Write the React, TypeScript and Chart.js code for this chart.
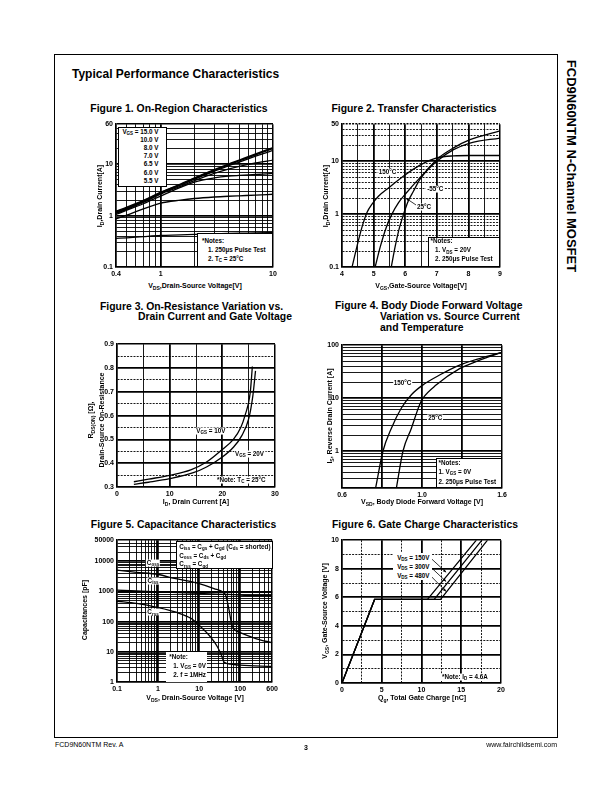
import React, { useEffect, useRef } from 'react';
import { Chart, registerables } from 'chart.js';

Chart.register(...registerables);

const FONT = '"Liberation Sans", Arial, Helvetica, sans-serif';

/* ---------------- Figure 1: On-Region Characteristics ---------------- */
const fig1Vds = [0.4, 0.5, 0.7, 1, 1.5, 2, 3, 4, 5, 7, 10];
const fig1Id15V = [1.22, 1.46, 1.97, 2.85, 4.1, 5.4, 7.8, 10.0, 12.0, 15.8, 21.0];
const fig1Id10V = [1.18, 1.41, 1.91, 2.78, 4.0, 5.3, 7.6, 9.7, 11.6, 15.2, 20.2];
const fig1Id8V = [1.13, 1.36, 1.85, 2.72, 3.9, 5.15, 7.3, 9.3, 11.0, 14.3, 18.6];
const fig1Id7V = [1.1, 1.32, 1.8, 2.62, 3.7, 4.8, 6.6, 8.0, 9.1, 10.6, 12.0];
const fig1Id6p5V = [1.05, 1.27, 1.7, 2.4, 3.55, 4.5, 5.4, 5.85, 6.05, 6.3, 6.6];
const fig1Id6V = [0.87, 1.02, 1.35, 1.75, 2.0, 2.15, 2.3, 2.38, 2.43, 2.5, 2.6];
const fig1Id5p5V = [0.36, 0.37, 0.39, 0.41, 0.42, 0.43, 0.44, 0.45, 0.455, 0.46, 0.47];
const fig1XLabels = [0.4, 1, 10];
const fig1YLabels = [0.1, 1, 10, 60];

/* ---------------- Figure 2: Transfer Characteristics ---------------- */
const fig2Vgs150 = [4.32, 4.47, 4.63, 4.79, 4.95, 5.16, 5.42, 5.95, 6.47, 7.0, 7.53, 8.05, 9.0];
const fig2Id150 = [0.1, 0.24, 0.56, 1.07, 1.54, 2.2, 2.94, 5.24, 8.4, 11.5, 12.6, 12.8, 12.8];
const fig2Vgs25 = [5.05, 5.21, 5.4, 5.58, 5.79, 6.0, 6.47, 7.0, 7.53, 8.05, 9.0];
const fig2Id25 = [0.1, 0.24, 0.56, 1.0, 1.65, 2.37, 4.9, 10, 16.5, 22, 27.4];
const fig2VgsM55 = [5.56, 5.68, 5.82, 5.95, 6.1, 6.26, 6.47, 7.0, 7.53, 8.05, 9.0];
const fig2IdM55 = [0.1, 0.24, 0.56, 1.0, 1.78, 2.7, 4.6, 10.8, 17.8, 25.5, 37.5];
const fig2XLabels = [4, 5, 6, 7, 8, 9];
const fig2YLabels = [0.1, 1, 10, 50];

/* ---------------- Figure 3: On-Resistance ---------------- */
const fig3Id10V = [3.2, 6, 10, 14, 17, 20, 22.1, 23.5, 24.3, 25.3, 25.7];
const fig3Rds10V = [0.322, 0.333, 0.349, 0.372, 0.405, 0.458, 0.5, 0.55, 0.6, 0.697, 0.806];
const fig3Id20V = [3.2, 6, 10, 14.5, 17, 20, 22.1, 23.7, 25, 25.8, 26.3];
const fig3Rds20V = [0.311, 0.32, 0.335, 0.36, 0.384, 0.426, 0.467, 0.516, 0.586, 0.684, 0.788];
const fig3XLabels = [0, 10, 20, 30];
const fig3YLabels = [0.3, 0.4, 0.5, 0.6, 0.7, 0.8, 0.9];

/* ---------------- Figure 4: Body Diode ---------------- */
const fig4Vsd150 = [0.768, 0.805, 0.847, 0.897, 0.947, 1.005, 1.088, 1.188, 1.288, 1.4];
const fig4Is150 = [0.2, 1.0, 2.7, 6.5, 11.6, 17.8, 27.3, 42, 56, 73];
const fig4Vsd25 = [0.872, 0.905, 0.947, 0.988, 1.005, 1.072, 1.188, 1.288, 1.4];
const fig4Is25 = [0.2, 1.0, 2.7, 7.5, 10, 17.8, 36, 52, 73];
const fig4XLabels = [0.6, 1.0, 1.4];
const fig4XLabelText = ['0.6', '1.0', '1.6'];
const fig4YLabels = [1, 10, 100];

/* ---------------- Figure 5: Capacitance ---------------- */
const fig5VdsCoss = [0.1, 0.3, 1, 2.5, 10, 23, 40, 44, 48, 53, 58, 63, 76, 100, 250, 600];
const fig5Coss = [5080, 4300, 3650, 2700, 1830, 1250, 900, 760, 500, 260, 130, 76, 52, 43, 27, 20];
const fig5VdsCiss = [0.1, 1, 10, 50, 100, 600];
const fig5Ciss = [1100, 970, 860, 800, 760, 720];
const fig5VdsCrss = [0.1, 0.3, 1, 2.6, 6.5, 10, 19, 28, 35, 40, 60, 100, 600];
const fig5Crss = [475, 400, 293, 210, 126, 76, 31, 14.5, 7.7, 4.6, 3.9, 3.6, 3.3];
const fig5XLabels = [0.1, 1, 10, 100, 600];
const fig5YLabels = [1, 10, 100, 1000, 10000, 50000];

/* ---------------- Figure 6: Gate Charge ---------------- */
const fig6Qg150V = [0, 4.1, 10.75, 16.9];
const fig6Qg300V = [0, 4.1, 11.6, 17.6];
const fig6Qg480V = [0, 4.1, 12.4, 18.3];
const fig6Vgs = [0, 5.85, 5.85, 10];
const fig6XLabels = [0, 5, 10, 15, 20];
const fig6YLabels = [0, 2, 4, 6, 8, 10];

/* annotation arrows, in data units: [fromX, fromY, toX, toY] */
const fig2Arrows = [[6.37, 1.45, 6.02, 2.0]];
const fig6Arrows = [
  [11.25, 8.7, 13.1, 7.75],
  [11.25, 8.07, 13.1, 7.1],
  [11.25, 7.45, 13.1, 6.4],
];

/* ---------------- helpers ---------------- */
const AX = 34;
const PT = 6;
const PR = 8;
const XH = 14;

const near = (a: number, b: number) =>
  Math.abs(a - b) <= 1e-6 * Math.max(1e-3, Math.abs(a), Math.abs(b));
const isDecade = (v: number) => {
  const l = Math.log10(v);
  return Math.abs(l - Math.round(l)) < 1e-6;
};
const isMult = (v: number, m: number) => Math.abs(v / m - Math.round(v / m)) < 1e-6;

function logGrid(min: number, max: number): number[] {
  const out: number[] = [];
  const e0 = Math.floor(Math.log10(min) + 1e-9);
  const e1 = Math.floor(Math.log10(max) + 1e-9);
  for (let e = e0; e <= e1; e++) {
    for (let m = 1; m <= 9; m++) {
      const v = Number((m * Math.pow(10, e)).toPrecision(6));
      if (v >= min * (1 - 1e-9) && v <= max * (1 + 1e-9)) out.push(v);
    }
  }
  if (!near(out[0], min)) out.unshift(min);
  if (!near(out[out.length - 1], max)) out.push(max);
  return out;
}
function linGrid(min: number, max: number, step: number): number[] {
  const out: number[] = [];
  const n = Math.round((max - min) / step);
  for (let i = 0; i <= n; i++) out.push(Number((min + i * step).toPrecision(8)));
  return out;
}

type Spec = {
  type: 'linear' | 'logarithmic';
  min: number;
  max: number;
  grid: number[];
  labels: number[];
  texts?: string[];
  major: (v: number) => boolean;
  dashed?: (v: number) => boolean;
};

function scale(axis: 'x' | 'y', s: Spec) {
  return {
    type: s.type,
    min: s.min,
    max: s.max,
    position: axis === 'x' ? 'bottom' : 'left',
    afterBuildTicks: (sc: any) => {
      sc.ticks = s.grid.map((v) => ({ value: v }));
    },
    afterFit: (sc: any) => {
      if (axis === 'x') sc.height = XH;
      else sc.width = AX;
    },
    ticks: {
      autoSkip: false,
      maxRotation: 0,
      minRotation: 0,
      padding: 3,
      color: '#000',
      font: { family: FONT, size: 7, weight: 'bold' },
      callback: (v: any) => {
        const i = s.labels.findIndex((l) => near(l, Number(v)));
        return i < 0 ? '' : s.texts ? s.texts[i] : String(s.labels[i]);
      },
    },
    grid: {
      drawTicks: false,
      color: '#000',
      lineWidth: (c: any) => {
        if (!c.tick) return 0.9;
        const v = c.tick.value;
        if (near(v, s.min) || near(v, s.max)) return 1.5;
        return s.major(v) ? 1.8 : 0.9;
      },
    },
    border: {
      display: true,
      color: '#000',
      width: 1.5,
      dash: (c: any) => (c && c.tick && s.dashed && s.dashed(c.tick.value) ? [2, 1.2] : []),
    },
  };
}

function curve(xs: number[], ys: number[], w = 1.3, smooth = true) {
  return {
    data: xs.map((x, i) => ({ x, y: ys[i] })),
    borderColor: '#000',
    borderWidth: w,
    pointRadius: 0,
    fill: false,
    tension: 0,
    cubicInterpolationMode: smooth ? 'monotone' : 'default',
  };
}

function arrowPlugin(arrows: number[][]) {
  return {
    id: 'arrows',
    afterDatasetsDraw(chart: any) {
      const { ctx } = chart;
      const xs = chart.scales.x;
      const ys = chart.scales.y;
      ctx.save();
      ctx.strokeStyle = '#000';
      ctx.fillStyle = '#000';
      ctx.lineWidth = 0.8;
      arrows.forEach(([x0, y0, x1, y1]) => {
        const px0 = xs.getPixelForValue(x0);
        const py0 = ys.getPixelForValue(y0);
        const px1 = xs.getPixelForValue(x1);
        const py1 = ys.getPixelForValue(y1);
        ctx.beginPath();
        ctx.moveTo(px0, py0);
        ctx.lineTo(px1, py1);
        ctx.stroke();
        const a = Math.atan2(py1 - py0, px1 - px0);
        const L = 3.5;
        ctx.beginPath();
        ctx.moveTo(px1, py1);
        ctx.lineTo(px1 - L * Math.cos(a - 0.4), py1 - L * Math.sin(a - 0.4));
        ctx.lineTo(px1 - L * Math.cos(a + 0.4), py1 - L * Math.sin(a + 0.4));
        ctx.closePath();
        ctx.fill();
      });
      ctx.restore();
    },
  };
}

function config(xs: any, ys: any, datasets: any[], plugins: any[] = []) {
  return {
    type: 'line',
    data: { datasets },
    options: {
      animation: false,
      responsive: false,
      devicePixelRatio: 1,
      events: [],
      layout: { padding: { left: 0, right: PR, top: PT, bottom: 0 } },
      plugins: { legend: { display: false }, tooltip: { enabled: false }, title: { display: false } },
      scales: { x: xs, y: ys },
    },
    plugins,
  };
}

type Area = { l: number; t: number; r: number; b: number };

function ChartCanvas({ area, make }: { area: Area; make: () => any }) {
  const ref = useRef<HTMLCanvasElement>(null);
  useEffect(() => {
    const chart = new Chart(ref.current as HTMLCanvasElement, make());
    return () => chart.destroy();
  }, []);
  const w = area.r - area.l + AX + PR;
  const h = area.b - area.t + PT + XH;
  return (
    <canvas
      ref={ref}
      width={w}
      height={h}
      style={{ position: 'absolute', left: area.l - AX, top: area.t - PT, width: w, height: h }}
    />
  );
}

const Sb = ({ children }: { children: React.ReactNode }) => (
  <span style={{ fontSize: '72%', position: 'relative', top: '0.3em' }}>{children}</span>
);

type TP = {
  x: number;
  y: number;
  a?: 'l' | 'c' | 'r';
  s?: number;
  b?: boolean;
  bg?: boolean;
  rot?: number;
  children: React.ReactNode;
};
function T({ x, y, a = 'l', s = 6.3, b = true, bg = false, rot = 0, children }: TP) {
  const tx = rot ? '-50%' : a === 'l' ? '0' : a === 'c' ? '-50%' : '-100%';
  return (
    <div
      style={{
        position: 'absolute',
        left: x,
        top: y,
        transform: `translate(${tx},-50%)${rot ? ` rotate(${rot}deg)` : ''}`,
        fontFamily: FONT,
        fontSize: s,
        fontWeight: b ? 700 : 400,
        lineHeight: 1.1,
        whiteSpace: 'nowrap',
        color: '#000',
        background: bg ? '#fff' : 'transparent',
        padding: bg ? '0 1px' : 0,
      }}
    >
      {children}
    </div>
  );
}

function Bx({ l, t, w, h, border = true }: { l: number; t: number; w: number; h: number; border?: boolean }) {
  return (
    <div
      style={{
        position: 'absolute',
        left: l,
        top: t,
        width: w,
        height: h,
        background: '#fff',
        border: border ? '1px solid #000' : 'none',
        boxSizing: 'border-box',
      }}
    />
  );
}

/* ---------------- plot areas (page pixels) ---------------- */
const A1: Area = { l: 116, t: 123, r: 273, b: 267 };
const A2: Area = { l: 342, t: 123, r: 500, b: 267 };
const A3: Area = { l: 117, t: 343, r: 275, b: 487 };
const A4: Area = { l: 342, t: 344, r: 502, b: 488 };
const A5: Area = { l: 117, t: 539, r: 273, b: 682 };
const A6: Area = { l: 342, t: 539, r: 501, b: 683 };

const make1 = () =>
  config(
    scale('x', { type: 'logarithmic', min: 0.4, max: 10, grid: logGrid(0.4, 10), labels: fig1XLabels, major: isDecade }),
    scale('y', { type: 'logarithmic', min: 0.1, max: 60, grid: logGrid(0.1, 60), labels: fig1YLabels, major: isDecade }),
    [
      curve(fig1Vds, fig1Id15V, 1.5),
      curve(fig1Vds, fig1Id10V, 1.5),
      curve(fig1Vds, fig1Id8V, 1.4),
      curve(fig1Vds, fig1Id7V),
      curve(fig1Vds, fig1Id6p5V),
      curve(fig1Vds, fig1Id6V),
      curve(fig1Vds, fig1Id5p5V),
    ]
  );

const make2 = () =>
  config(
    scale('x', { type: 'linear', min: 4, max: 9, grid: linGrid(4, 9, 0.5), labels: fig2XLabels, major: (v) => isMult(v, 1) }),
    scale('y', {
      type: 'logarithmic',
      min: 0.1,
      max: 50,
      grid: logGrid(0.1, 50),
      labels: fig2YLabels,
      major: isDecade,
      dashed: (v) => !isDecade(v),
    }),
    [curve(fig2Vgs150, fig2Id150), curve(fig2Vgs25, fig2Id25), curve(fig2VgsM55, fig2IdM55)],
    [arrowPlugin(fig2Arrows)]
  );

const make3 = () =>
  config(
    scale('x', { type: 'linear', min: 0, max: 30, grid: linGrid(0, 30, 5), labels: fig3XLabels, major: (v) => isMult(v, 10) }),
    scale('y', {
      type: 'linear',
      min: 0.3,
      max: 0.9,
      grid: linGrid(0.3, 0.9, 0.05),
      labels: fig3YLabels,
      major: (v) => isMult(v, 0.1),
      dashed: (v) => !isMult(v, 0.1),
    }),
    [curve(fig3Id10V, fig3Rds10V), curve(fig3Id20V, fig3Rds20V)]
  );

const make4 = () =>
  config(
    scale('x', {
      type: 'linear',
      min: 0.6,
      max: 1.4,
      grid: linGrid(0.6, 1.4, 0.2),
      labels: fig4XLabels,
      texts: fig4XLabelText,
      major: () => true,
    }),
    scale('y', { type: 'logarithmic', min: 0.2, max: 100, grid: logGrid(0.2, 100), labels: fig4YLabels, major: isDecade }),
    [curve(fig4Vsd150, fig4Is150), curve(fig4Vsd25, fig4Is25)]
  );

const make5 = () =>
  config(
    scale('x', { type: 'logarithmic', min: 0.1, max: 600, grid: logGrid(0.1, 600), labels: fig5XLabels, major: isDecade }),
    scale('y', { type: 'logarithmic', min: 1, max: 50000, grid: logGrid(1, 50000), labels: fig5YLabels, major: isDecade }),
    [curve(fig5VdsCoss, fig5Coss), curve(fig5VdsCiss, fig5Ciss), curve(fig5VdsCrss, fig5Crss)]
  );

const make6 = () =>
  config(
    scale('x', {
      type: 'linear',
      min: 0,
      max: 20,
      grid: linGrid(0, 20, 2.5),
      labels: fig6XLabels,
      major: (v) => isMult(v, 5),
      dashed: (v) => !isMult(v, 5),
    }),
    scale('y', {
      type: 'linear',
      min: 0,
      max: 10,
      grid: linGrid(0, 10, 1),
      labels: fig6YLabels,
      major: (v) => isMult(v, 2),
      dashed: (v) => !isMult(v, 2),
    }),
    [
      curve(fig6Qg150V, fig6Vgs, 1.3, false),
      curve(fig6Qg300V, fig6Vgs, 1.3, false),
      curve(fig6Qg480V, fig6Vgs, 1.3, false),
    ],
    [arrowPlugin(fig6Arrows)]
  );

export default function App() {
  const fs = 10.4;
  const ax = 7;
  return (
    <div style={{ position: 'absolute', left: 0, top: 0, width: 612, height: 792, background: '#fff', overflow: 'hidden' }}>
      {/* page frame */}
      <div
        style={{
          position: 'absolute',
          left: 54,
          top: 54,
          width: 504,
          height: 684,
          border: '1.3px solid #000',
          boxSizing: 'border-box',
        }}
      />
      <T x={571} y={166} rot={90} s={13}>
        FCD9N60NTM N-Channel MOSFET
      </T>
      <T x={72} y={74.5} s={12}>
        Typical Performance Characteristics
      </T>

      {/* figure titles */}
      <T x={179} y={109} a="c" s={fs}>Figure 1. On-Region Characteristics</T>
      <T x={414} y={109} a="c" s={fs}>Figure 2. Transfer Characteristics</T>
      <T x={100} y={306.5} s={fs}>Figure 3. On-Resistance Variation vs.</T>
      <T x={138} y={317} s={fs}>Drain Current and Gate Voltage</T>
      <T x={335} y={306} s={fs}>Figure 4. Body Diode Forward Voltage</T>
      <T x={380} y={317} s={fs}>Variation vs. Source Current</T>
      <T x={380} y={328} s={fs}>and Temperature</T>
      <T x={183.5} y={525} a="c" s={fs}>Figure 5. Capacitance Characteristics</T>
      <T x={425} y={525} a="c" s={fs}>Figure 6. Gate Charge Characteristics</T>

      {/* charts */}
      <ChartCanvas area={A1} make={make1} />
      <ChartCanvas area={A2} make={make2} />
      <ChartCanvas area={A3} make={make3} />
      <ChartCanvas area={A4} make={make4} />
      <ChartCanvas area={A5} make={make5} />
      <ChartCanvas area={A6} make={make6} />

      {/* ---- Figure 1 annotations ---- */}
      <Bx l={118} t={127} w={49} h={60} />
      <T x={158.5} y={131.5} a="r">V<Sb>GS</Sb> = 15.0 V</T>
      <T x={158.5} y={139.7} a="r">10.0 V</T>
      <T x={158.5} y={147.9} a="r">8.0 V</T>
      <T x={158.5} y={156.1} a="r">7.0 V</T>
      <T x={158.5} y={164.3} a="r">6.5 V</T>
      <T x={158.5} y={172.5} a="r">6.0 V</T>
      <T x={158.5} y={180.7} a="r">5.5 V</T>
      <Bx l={197} t={233} w={76} h={34} />
      <T x={202} y={240.5}>*Notes:</T>
      <T x={208} y={249.5}>1. 250μs Pulse Test</T>
      <T x={208} y={258.5}>2. T<Sb>C</Sb> = 25°C</T>
      <T x={195} y={286} a="c" s={ax}>V<Sb>DS</Sb>,Drain-Source Voltage[V]</T>
      <T x={100} y={196} rot={-90} s={ax}>I<Sb>D</Sb>,Drain Current[A]</T>

      {/* ---- Figure 2 annotations ---- */}
      <T x={387.5} y={171.7} a="c" bg>150°C</T>
      <T x={435.3} y={189.3} a="c" bg>-55°C</T>
      <T x={424} y={206.7} a="c" bg>25°C</T>
      <Bx l={428} t={236.7} w={72} h={30.3} />
      <T x={430.5} y={241}>*Notes:</T>
      <T x={435} y={250.3}>1. V<Sb>DS</Sb> = 20V</T>
      <T x={435} y={259.3}>2. 250μs Pulse Test</T>
      <T x={421} y={286} a="c" s={ax}>V<Sb>GS</Sb>,Gate-Source Voltage[V]</T>
      <T x={326} y={196} rot={-90} s={ax}>I<Sb>D</Sb>,Drain Current[A]</T>

      {/* ---- Figure 3 annotations ---- */}
      <T x={210.8} y={431} a="c" bg>V<Sb>GS</Sb> = 10V</T>
      <T x={249.5} y={453.7} a="c" bg>V<Sb>GS</Sb> = 20V</T>
      <T x={216} y={480} bg>*Note: T<Sb>C</Sb> = 25°C</T>
      <T x={196} y={502} a="c" s={ax}>I<Sb>D</Sb>, Drain Current [A]</T>
      <T x={91} y={420} rot={-90} s={ax}>R<Sb>DS(ON)</Sb> [Ω],</T>
      <T x={102} y={420} rot={-90} s={ax}>Drain-Source On-Resistance</T>

      {/* ---- Figure 4 annotations ---- */}
      <T x={402.5} y={383.3} a="c" bg>150°C</T>
      <T x={435.3} y={418.3} a="c" bg>25°C</T>
      <Bx l={436} t={458.3} w={66} h={29.7} />
      <T x={438.5} y={463.3}>*Notes:</T>
      <T x={438.5} y={471.5}>1. V<Sb>GS</Sb> = 0V</T>
      <T x={438.5} y={481.5}>2. 250μs Pulse Test</T>
      <T x={422} y={502} a="c" s={ax}>V<Sb>SD</Sb>, Body Diode Forward Voltage [V]</T>
      <T x={330} y={416} rot={-90} s={ax}>I<Sb>S</Sb>, Reverse Drain Current [A]</T>

      {/* ---- Figure 5 annotations ---- */}
      <Bx l={176} t={541} w={97} h={28} />
      <T x={179.3} y={546.7}>C<Sb>iss</Sb> = C<Sb>gs</Sb> + C<Sb>gd</Sb> (C<Sb>ds</Sb> = shorted)</T>
      <T x={179.3} y={555.7}>C<Sb>oss</Sb> = C<Sb>ds</Sb> + C<Sb>gd</Sb></T>
      <T x={179.3} y={564.3}>C<Sb>rss</Sb> = C<Sb>gd</Sb></T>
      <T x={153} y={562.7} a="c" bg>C<Sb>oss</Sb></T>
      <T x={153} y={581} a="c" bg>C<Sb>iss</Sb></T>
      <T x={153} y={612.3} a="c" bg>C<Sb>rss</Sb></T>
      <Bx l={166} t={651.7} w={41} h={30.3} border={false} />
      <T x={169.3} y={656.7}>*Note:</T>
      <T x={173.3} y={665.7}>1. V<Sb>GS</Sb> = 0V</T>
      <T x={173.3} y={675}>2. f = 1MHz</T>
      <T x={195} y={698} a="c" s={ax}>V<Sb>DS</Sb>, Drain-Source Voltage [V]</T>
      <T x={85} y={610} rot={-90} s={ax}>Capacitances [pF]</T>

      {/* ---- Figure 6 annotations ---- */}
      <Bx l={393.3} t={553.3} w={38.4} h={26.7} border={false} />
      <T x={429.5} y={557.7} a="r">V<Sb>DS</Sb> = 150V</T>
      <T x={429.5} y={566.7} a="r">V<Sb>DS</Sb> = 300V</T>
      <T x={429.5} y={575.7} a="r">V<Sb>DS</Sb> = 480V</T>
      <T x={441} y={676.7} bg>*Note: I<Sb>D</Sb> = 4.6A</T>
      <T x={422} y={698} a="c" s={ax}>Q<Sb>g</Sb>, Total Gate Charge [nC]</T>
      <T x={325} y={611} rot={-90} s={ax}>V<Sb>GS</Sb>, Gate-Source Voltage [V]</T>

      {/* footer */}
      <T x={55} y={745} s={7} b={false}>FCD9N60NTM Rev. A</T>
      <T x={306} y={747.5} a="c" s={7}>3</T>
      <T x={557} y={745} a="r" s={7} b={false}>www.fairchildsemi.com</T>
    </div>
  );
}
